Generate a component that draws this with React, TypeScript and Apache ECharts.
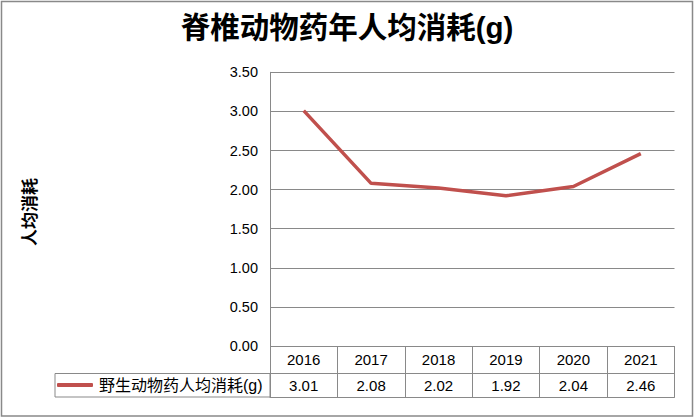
import React, { useEffect, useRef } from "react";
import * as echarts from "echarts";

const categories = ["2016", "2017", "2018", "2019", "2020", "2021"];
const seriesName = "野生动物药人均消耗(g)";
const values = [3.01, 2.08, 2.02, 1.92, 2.04, 2.46];
const titleText = "脊椎动物药年人均消耗(g)";
const yAxisName = "人均消耗";
const yMin = 0;
const yMax = 3.5;
const yInterval = 0.5;

const GRAY = "#898989";
const RED = "#C0504D";
const FONT = "'Liberation Sans', 'Noto Sans CJK SC', sans-serif";

export default function App() {
  const ref = useRef<HTMLDivElement>(null);
  useEffect(() => {
    if (!ref.current) return;
    const chart = echarts.init(ref.current, null, { renderer: "svg" });
    chart.setOption({
      animation: false,
      backgroundColor: "#ffffff",
      textStyle: { fontFamily: FONT },
      title: {
        text: titleText,
        left: "center",
        top: 13,
        padding: 0,
        textStyle: { fontSize: 29.5, fontWeight: "bold", color: "#000", fontFamily: FONT },
      },
      legend: {
        data: [seriesName],
        left: 57,
        top: 377,
        padding: 0,
        icon: "roundRect",
        itemWidth: 36,
        itemHeight: 4,
        itemGap: 0,
        textStyle: { fontSize: 16, color: "#000", fontFamily: FONT, padding: [0, 0, 0, 1] },
      },
      grid: { left: 270, right: 19.5, top: 72.3, bottom: 73, containLabel: false },
      xAxis: [
        {
          type: "category",
          data: categories,
          position: "bottom",
          boundaryGap: true,
          axisLine: { show: false },
          axisTick: { show: true, length: 51, inside: false, lineStyle: { color: GRAY, width: 1 } },
          axisLabel: { margin: 6, fontSize: 15, color: "#000", fontFamily: FONT },
          splitLine: { show: false },
        },
        {
          type: "category",
          data: categories,
          position: "bottom",
          offset: 27.5,
          boundaryGap: true,
          axisLine: { show: true, lineStyle: { color: GRAY, width: 1 } },
          axisTick: { show: false },
          axisLabel: {
            margin: 4,
            fontSize: 15,
            color: "#000",
            fontFamily: FONT,
            formatter: (_v: string, i: number) => values[i].toFixed(2),
          },
        },
        {
          type: "category",
          data: categories,
          position: "bottom",
          offset: 51,
          boundaryGap: true,
          axisLine: { show: true, lineStyle: { color: GRAY, width: 1 } },
          axisTick: { show: false },
          axisLabel: { show: false },
        },
      ],
      yAxis: {
        type: "value",
        min: yMin,
        max: yMax,
        interval: yInterval,
        axisLine: { show: true, lineStyle: { color: GRAY, width: 1 } },
        axisTick: { show: false },
        splitLine: { show: true, lineStyle: { color: GRAY, width: 1 } },
        axisLabel: {
          margin: 12,
          fontSize: 14.5,
          color: "#000",
          fontFamily: FONT,
          formatter: (v: number) => v.toFixed(2),
        },
      },
      graphic: [
        {
          type: "rect",
          shape: { x: 1.5, y: 1.5, width: 691, height: 414.5 },
          style: { fill: "none", stroke: GRAY, lineWidth: 1.5 },
          silent: true,
        },
        {
          type: "rect",
          shape: { x: 55, y: 373.5, width: 215, height: 23.5 },
          style: { fill: "none", stroke: GRAY, lineWidth: 1 },
          silent: true,
        },
        {
          type: "text",
          x: 30,
          y: 212,
          rotation: Math.PI / 2,
          style: {
            text: yAxisName,
            fontSize: 17,
            fontWeight: "bold",
            fontFamily: FONT,
            fill: "#000",
            align: "center",
            verticalAlign: "middle",
          },
        },
      ],
      series: [
        {
          name: seriesName,
          type: "line",
          xAxisIndex: 0,
          data: values,
          symbol: "none",
          lineStyle: { color: RED, width: 3.5 },
          itemStyle: { color: RED },
        },
      ],
    });
    return () => chart.dispose();
  }, []);
  return (
    <div
      ref={ref}
      style={{ position: "absolute", left: 0, top: 0, width: 694, height: 419 }}
    />
  );
}
